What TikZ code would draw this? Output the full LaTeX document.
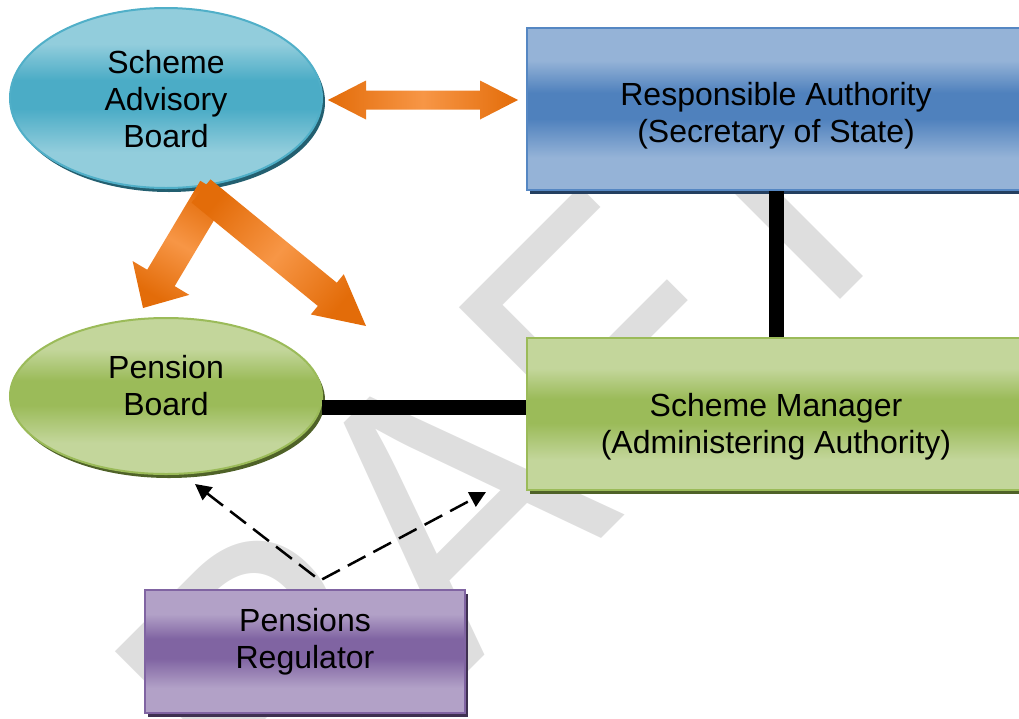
\documentclass[tikz,border=0pt]{standalone}
\usepackage{fontspec}
\setmainfont{Liberation Sans}
\usetikzlibrary{shapes.geometric,arrows.meta,calc}
\definecolor{wm}{RGB}{222,222,222}
\definecolor{tealL}{RGB}{146,205,220}
\definecolor{tealD}{RGB}{75,172,198}
\definecolor{tealB}{RGB}{80,175,200}
\definecolor{tealS}{RGB}{35,95,112}
\definecolor{blueL}{RGB}{149,179,215}
\definecolor{blueD}{RGB}{79,129,189}
\definecolor{blueB}{RGB}{85,135,195}
\definecolor{blueS}{RGB}{36,63,96}
\definecolor{greenL}{RGB}{195,214,155}
\definecolor{greenD}{RGB}{155,187,89}
\definecolor{greenB}{RGB}{155,187,89}
\definecolor{greenS}{RGB}{79,98,40}
\definecolor{purpL}{RGB}{178,161,199}
\definecolor{purpD}{RGB}{128,100,162}
\definecolor{purpB}{RGB}{128,100,162}
\definecolor{purpS}{RGB}{63,49,81}
\definecolor{orD}{RGB}{227,108,9}
\definecolor{orL}{RGB}{247,150,70}
\pgfdeclareverticalshading{tealsh}{100bp}{color(0bp)=(tealL); color(35bp)=(tealL); color(47bp)=(tealD); color(55bp)=(tealD); color(65bp)=(tealL); color(100bp)=(tealL)}
\pgfdeclareverticalshading{bluesh}{100bp}{color(0bp)=(blueL); color(35bp)=(blueL); color(47bp)=(blueD); color(55bp)=(blueD); color(65bp)=(blueL); color(100bp)=(blueL)}
\pgfdeclareverticalshading{greensh}{100bp}{color(0bp)=(greenL); color(35bp)=(greenL); color(47bp)=(greenD); color(55bp)=(greenD); color(65bp)=(greenL); color(100bp)=(greenL)}
\pgfdeclareverticalshading{purpsh}{100bp}{color(0bp)=(purpL); color(35bp)=(purpL); color(47bp)=(purpD); color(55bp)=(purpD); color(65bp)=(purpL); color(100bp)=(purpL)}
\newcommand\blockarrow[6]{%
  \coordinate (ba-h) at ($(#2)!#5!(#1)$);
  \shade[#6] ($(#1)!#3!90:(#2)$) -- ($(ba-h)!#3!90:(#2)$) -- ($(ba-h)!#4!90:(#2)$) -- (#2)
    -- ($(ba-h)!#4!-90:(#2)$) -- ($(ba-h)!#3!-90:(#2)$) -- ($(#1)!#3!-90:(#2)$) -- cycle;}
\newcommand\ntext[2]{\raisebox{#1}[\height][\depth]{\begin{tabular}{@{}c@{}}#2\end{tabular}}}
\tikzset{
  basenode/.style={inner sep=0pt, font=\fontsize{32}{37}\selectfont, line width=2pt},
  ell/.style={basenode, ellipse},
  rbox/.style={basenode, rectangle},
  shadowed/.style={preaction={fill=#1, transform canvas={xshift=3pt,yshift=-4pt}}},
  tealnode/.style={shadowed=tealS, shade, shading=tealsh, draw=tealB},
  bluenode/.style={shadowed=blueS, shade, shading=bluesh, draw=blueB},
  greennode/.style={shadowed=greenS, shade, shading=greensh, draw=greenB},
  purpnode/.style={shadowed=purpS, shade, shading=purpsh, draw=purpB},
  thickconn/.style={line width=15pt, black},
  dashconn/.style={line width=2.5pt, dash pattern=on 20pt off 9pt,
    {Triangle[length=16pt,width=16pt]}-{Triangle[length=16pt,width=16pt]}},
  orangearrow/.style={left color=orD, right color=orD, middle color=orL},
  watermark/.style={inner sep=0pt, text=wm, font=\fontsize{350}{400}\selectfont}
}
\begin{document}
\begin{tikzpicture}[x=1pt,y=-1pt]
\useasboundingbox (0,0) rectangle (1019,718);
\clip (0,0) rectangle (1019,718);
\node[watermark, rotate=45, anchor=base west] (wmk) at (103,1037) {\scalebox{1}[1.095]{DRAFT}};

\node[ell, tealnode, minimum width=312pt, minimum height=180pt] (sab) at (166,98) {\ntext{-5pt}{Scheme\\Advisory\\Board}};
\node[rbox, bluenode, minimum width=498pt, minimum height=162pt] (ra) at (776,109) {\ntext{-8pt}{Responsible Authority\\(Secretary of State)}};
\node[ell, greennode, minimum width=312pt, minimum height=156pt] (pb) at (166,396) {\ntext{6pt}{Pension\\Board}};
\node[rbox, greennode, minimum width=498pt, minimum height=152pt] (sm) at (776,414) {\ntext{-14pt}{Scheme Manager\\(Administering Authority)}};
\node[rbox, purpnode, minimum width=320pt, minimum height=123pt] (reg) at (305,651) {\ntext{8pt}{Pensions\\Regulator}};

\draw[thickconn] (ra.south) -- (sm.north);
\coordinate (hl) at ($(pb.east)+(-1.5,11)$);
\draw[thickconn] (hl) -- (hl -| sm.west);

% double arrow SAB <-> RA
\coordinate (dl) at ($(sab.east)+(5,2)$);
\coordinate (dr) at ($(ra.west)+(-8,-9)$);
\coordinate (hL) at ($(dl)!38pt!(dr)$);
\coordinate (hR) at ($(dr)!38pt!(dl)$);
\shade[orangearrow] (dl) -- ($(hL)!19.5pt!90:(dr)$) -- ($(hL)!9.5pt!90:(dr)$) -- ($(hR)!9.5pt!-90:(dl)$)
  -- ($(hR)!19.5pt!-90:(dl)$) -- (dr) -- ($(hR)!19.5pt!90:(dl)$) -- ($(hR)!9.5pt!90:(dl)$)
  -- ($(hL)!9.5pt!-90:(dr)$) -- ($(hL)!19.5pt!-90:(dr)$) -- cycle;

% SAB -> PB and SAB -> SM
\coordinate (t1) at ($(sab.south)+(48,0)$);
\coordinate (p1) at ($(pb.north)+(-23,-9)$);
\blockarrow{t1}{p1}{16pt}{33pt}{35pt}{orangearrow, shading angle=-30}
\coordinate (t2) at ($(sab.south)+(35,2)$);
\coordinate (p2) at ($(pb.north)+(200,9)$);
\blockarrow{t2}{p2}{15pt}{26pt}{50pt}{orangearrow, shading angle=50}

% regulator dashed
\coordinate (rtop) at ($(reg.north)+(15,-8)$);
\coordinate (dpb) at ($(pb.south)+(29,9)$);
\coordinate (dsm) at ($(sm.south west)+(-40,1)$);
\draw[dashconn] (dpb) -- (rtop) -- (dsm);
\end{tikzpicture}
\end{document}
